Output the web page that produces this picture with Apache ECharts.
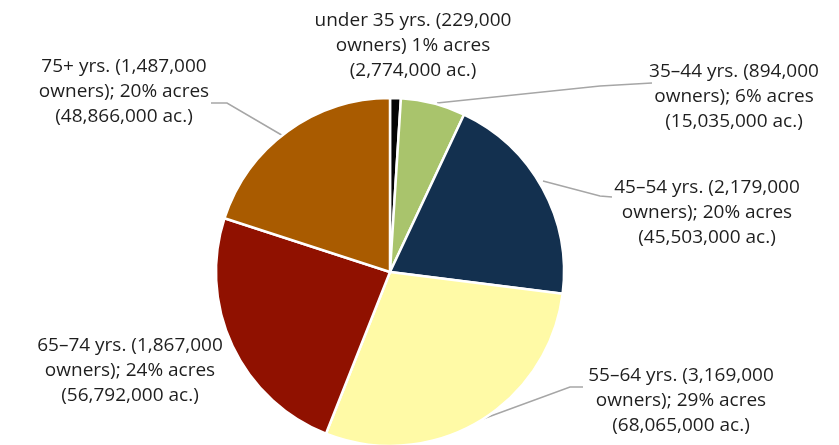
<!DOCTYPE html>
<html>
<head>
<meta charset="utf-8">
<script src="https://cdn.jsdelivr.net/npm/echarts@6/dist/echarts.min.js"></script>
<style>
html,body{margin:0;padding:0;background:#fff;}
#chart{width:839px;height:445px;}
</style>
</head>
<body>
<div id="chart"></div>
<script>
const categories = ['under 35 yrs.', '35–44 yrs.', '45–54 yrs.', '55–64 yrs.', '65–74 yrs.', '75+ yrs.'];
const owners = [229000, 894000, 2179000, 3169000, 1867000, 1487000];
const acres = [2774000, 15035000, 45503000, 68065000, 56792000, 48866000];
const acrePct = [1, 6, 20, 29, 24, 20];
const separators = ['', ';', ';', ';', ';', ';'];
const colors = ['#050505', '#a9c46c', '#13304f', '#fffaa6', '#901100', '#a95b00'];

// label layout (annotation placement)
const labelPos = [
  {x: 413, y: 46, line: null},
  {x: 734, y: 97, line: [[437, 103], [600, 86], [652, 83]]},
  {x: 707, y: 213, line: [[543, 181], [600, 196], [612, 197]]},
  {x: 681, y: 401, line: [[480, 420], [570, 387], [583, 387]]},
  {x: 130, y: 371, line: null},
  {x: 124, y: 92, line: [[285, 137], [227, 103], [211, 103]]}
];

const fmt = n => n.toLocaleString('en-US');

const data = categories.map((c, i) => ({
  name: c,
  value: acrePct[i],
  itemStyle: {color: colors[i]},
  labelLine: {show: !!labelPos[i].line}
}));

const chart = echarts.init(document.getElementById('chart'));
chart.setOption({
  animation: false,
  series: [{
    type: 'pie',
    center: [390, 272],
    radius: [0, 174],
    startAngle: 90,
    clockwise: true,
    data: data,
    itemStyle: {borderColor: '#ffffff', borderWidth: 2.5},
    label: {
      show: true,
      position: 'outside',
      overflow: 'none',
      fontFamily: 'Open Sans',
      fontSize: 19,
      color: '#1e1e1e',
      lineHeight: 25,
      align: 'center',
      formatter: p => {
        const i = p.dataIndex;
        return categories[i] + ' (' + fmt(owners[i]) + '\nowners)' + separators[i] + ' ' + acrePct[i] + '% acres\n(' + fmt(acres[i]) + ' ac.)';
      }
    },
    labelLine: {show: true, lineStyle: {color: '#a6a6a6', width: 1.5}},
    labelLayout: p => {
      const lp = labelPos[p.dataIndex];
      const r = {x: lp.x, y: lp.y, align: 'center', verticalAlign: 'middle'};
      if (lp.line) r.labelLinePoints = lp.line;
      return r;
    }
  }]
});
</script>
</body>
</html>
